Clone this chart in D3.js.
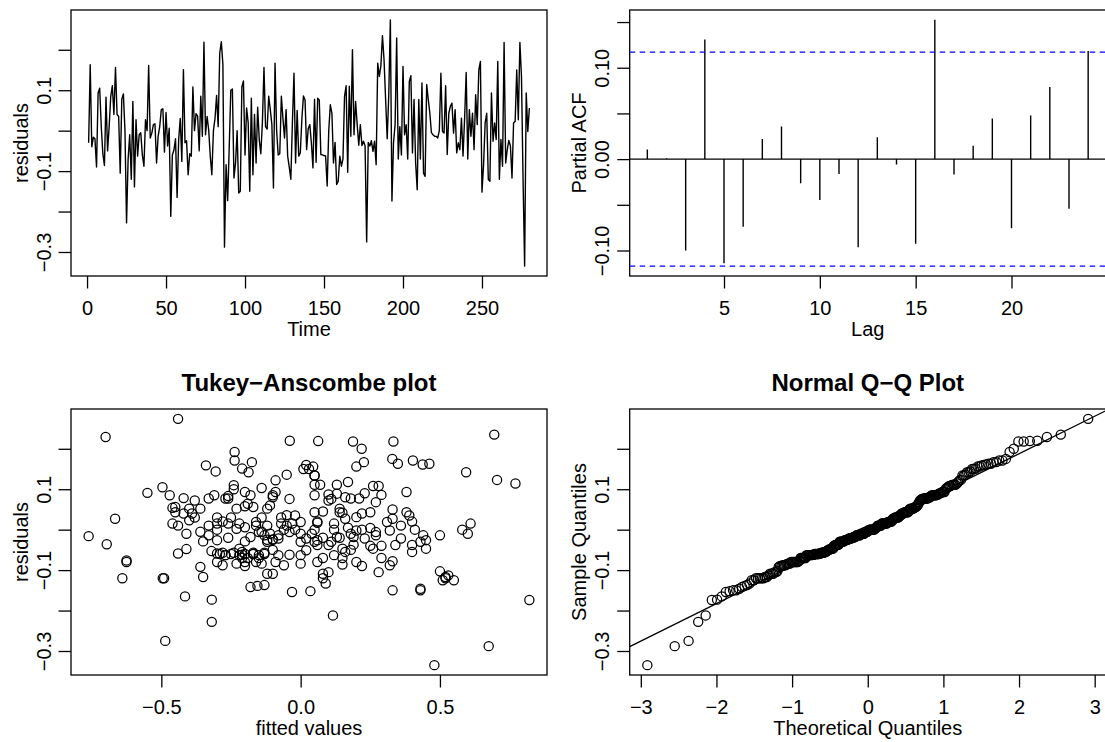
<!DOCTYPE html>
<html>
<head>
<meta charset="utf-8">
<script src="https://cdn.jsdelivr.net/npm/d3@7"></script>
<style>
  body { margin: 0; background: #fff; }
  svg { display: block; font-family: "Liberation Sans", Arial, Helvetica, sans-serif; }
</style>
</head>
<body>
<svg id="chart"></svg>
<script>
// residuals of the fitted model, t = 1..280
var residuals = [
  -0.03, 0.163, -0.04, -0.016, -0.02, -0.09, 0.093, 0.105, 0.01, -0.057,
  -0.086, 0.083, -0.05, 0.01, 0.085, 0.111, 0.04, 0.156, 0.04, 0.035,
  -0.105, 0.078, 0.091, 0.0, -0.228, -0.07, -0.01, -0.12, 0.072, -0.139,
  0.027, -0.063, -0.01, -0.005, -0.06, -0.088, 0.027, 0.0, 0.161, -0.018,
  -0.006, 0.015, 0.017, -0.08, -0.014, 0.01, 0.052, 0.054, -0.053, 0.045,
  -0.038, 0.006, -0.212, -0.06, -0.048, -0.02, -0.165, -0.022, 0.03, -0.076,
  0.151, -0.03, -0.025, -0.109, -0.057, -0.063, 0.108, 0.0, 0.042, 0.036,
  -0.05, 0.085, -0.014, 0.219, -0.01, 0.035, 0.002, -0.063, -0.109, 0.0,
  0.03, 0.087, 0.01, 0.192, 0.22, 0.163, -0.288, -0.084, -0.173, -0.04,
  0.1, 0.103, -0.117, -0.08, 0.0, -0.154, -0.15, 0.108, 0.123, -0.06,
  0.056, 0.02, -0.15, 0.08, -0.109, 0.04, -0.08, 0.058, -0.022, -0.057,
  0.02, 0.156, 0.01, 0.004, 0.085, 0.052, 0.015, -0.142, 0.167, 0.0,
  -0.06, -0.057, 0.085, 0.03, -0.018, 0.052, -0.063, -0.09, -0.12, 0.02,
  0.142, -0.08, 0.05, -0.063, -0.055, 0.03, 0.086, 0.076, -0.047, 0.005,
  0.015, -0.03, -0.092, 0.077, -0.078, 0.08, 0.076, -0.059, -0.06, -0.062,
  -0.062, -0.137, 0.0, 0.064, 0.043, -0.08, -0.029, -0.133, -0.125, -0.063,
  -0.088, -0.07, 0.085, 0.111, -0.103, 0.11, -0.014, 0.2, -0.01, 0.072,
  0.015, -0.036, 0.015, -0.037, -0.026, -0.038, -0.275, -0.029, -0.038, -0.025,
  -0.051, -0.026, -0.084, 0.167, 0.134, 0.16, 0.235, 0.175, 0.077, -0.02,
  0.09, 0.274, -0.174, -0.03, 0.015, 0.229, -0.07, 0.01, -0.06, 0.159,
  -0.01, 0.015, -0.07, 0.122, 0.136, -0.055, 0.077, -0.08, -0.146, 0.077,
  -0.07, 0.118, -0.105, -0.113, 0.114, 0.077, 0.043, -0.005, -0.01, -0.014,
  -0.014, -0.018, 0.0, 0.142, -0.002, -0.006, 0.111, -0.059, 0.043, 0.06,
  0.068, -0.006, 0.052, -0.055, -0.03, -0.047, 0.031, -0.063, 0.03, 0.144,
  -0.07, 0.052, -0.014, 0.043, -0.047, 0.089, 0.015, 0.15, 0.171, -0.152,
  -0.084, 0.019, 0.043, -0.12, -0.125, 0.093, -0.026, 0.019, -0.022, 0.171,
  -0.12, -0.022, -0.088, 0.218, -0.08, -0.047, -0.024, -0.038, -0.117, 0.019,
  0.023, 0.15, 0.027, 0.218, 0.134, -0.12, -0.335, 0.093, -0.002, 0.056
];

// fitted values, same order as residuals
var fitted = [
  -0.12, 0.462, 0.25, -0.761, 0.08, -0.2, 0.38, -0.496, -0.05, -0.28,
  0.15, -0.26, -0.1, -0.44, 0.05, 0.13, -0.42, 0.045, 0.22, -0.02,
  0.28, -0.42, -0.55, 0.41, -0.319, -0.15, 0.18, -0.64, 0.1, -0.155,
  0.33, -0.22, 0.0, -0.36, -0.25, -0.06, -0.666, 0.12, 0.438, -0.18,
  0.27, -0.3, 0.06, -0.625, -0.08, 0.36, -0.12, -0.46, -0.32, 0.08,
  0.1, -0.2, 0.116, -0.2, -0.41, -0.26, -0.415, 0.02, -0.38, -0.625,
  -0.21, 0.43, -0.1, 0.08, -0.24, -0.15, 0.26, -0.3, 0.15, -0.05,
  0.18, -0.18, 0.5, 0.063, -0.11, 0.39, -0.23, -0.27, -0.12, 0.22,
  -0.07, 0.1, -0.33, -0.237, -0.039, 0.349, 0.675, 0.0, -0.319, 0.29,
  -0.24, -0.14, 0.52, -0.2, 0.05, -0.031, 0.33, 0.28, 0.705, -0.17,
  -0.45, -0.28, 0.43, 0.16, -0.1, -0.39, 0.2, -0.2, 0.36, -0.13,
  0.06, 0.2, -0.16, 0.25, -0.1, 0.14, -0.46, -0.18, 0.227, -0.02,
  -0.29, -0.17, -0.47, -0.25, 0.13, -0.36, -0.08, 0.22, -0.495, 0.4,
  0.594, -0.16, 0.33, -0.27, -0.21, -0.14, 0.29, -0.04, 0.45, 0.17,
  -0.22, 0.05, -0.36, 0.18, 0.33, -0.1, 0.11, -0.3, -0.13, -0.21,
  -0.04, -0.13, 0.58, -0.19, 0.38, -0.09, -0.35, 0.09, 0.55, 0.12,
  -0.28, 0.15, -0.31, 0.07, 0.5, -0.24, 0.27, 0.219, -0.41, -0.38,
  0.12, -0.696, -0.07, 0.19, -0.3, 0.06, -0.486, -0.2, 0.34, -0.12,
  0.02, 0.45, -0.23, -0.175, 0.05, 0.02, 0.695, 0.329, -0.33, 0.14,
  0.23, -0.44, 0.821, 0.0, -0.26, -0.7, 0.29, -0.12, -0.17, -0.34,
  0.6, 0.61, -0.19, -0.09, -0.05, 0.16, -0.27, 0.06, 0.43, 0.21,
  -0.21, 0.17, 0.1, 0.53, 0.771, -0.26, 0.25, -0.14, 0.04, 0.44,
  -0.33, 0.19, -0.06, -0.187, 0.32, -0.15, 0.05, -0.44, 0.14, -0.11,
  0.27, -0.04, -0.23, 0.4, 0.11, -0.22, 0.2, 0.0, -0.3, -0.305,
  0.08, -0.4, -0.13, -0.45, 0.26, 0.13, -0.03, 0.03, -0.237, 0.035,
  -0.14, 0.31, 0.05, -0.49, 0.51, -0.2, 0.06, -0.16, 0.23, 0.403,
  0.08, -0.08, 0.32, 0.188, -0.3, 0.15, -0.1, 0.4, -0.35, 0.0,
  -0.4, 0.01, 0.16, 0.333, 0.05, 0.52, 0.48, -0.09, 0.2, -0.17
];

// partial autocorrelations, lags 1..24
var pacfLags = d3.range(1, 25);
var pacfValues = [
  0.0105, 0.001, -0.1, 0.131, -0.114, -0.074, 0.022, 0.0356, -0.0265, -0.0447,
  -0.0164, -0.0964, 0.024, -0.0058, -0.0927, 0.1524, -0.0167, 0.0145, 0.0444, -0.0756,
  0.0476, 0.0789, -0.0542, 0.1182
];

// tick values
var residTicks = [-0.3, -0.2, -0.1, 0, 0.1, 0.2];
var residLabels = [-0.3, -0.1, 0.1];
var timeTicks = [0, 50, 100, 150, 200, 250];
var pacfTicks = [-0.10, -0.05, 0, 0.05, 0.10, 0.15];
var pacfTickLabels = [-0.10, 0, 0.10];
var lagTicks = [5, 10, 15, 20];
var fittedTicks = [-0.5, 0, 0.5];
var qqTicks = [-3, -2, -1, 0, 1, 2, 3];

var width = 1105, height = 742;
var svg = d3.select("#chart").attr("width", width).attr("height", height);
svg.append("rect").attr("width", width).attr("height", height).attr("fill", "#fff");

var fontSize = 20;
var minus = function(s){ return s.replace("-", "\u2212"); };

// plot regions
var panels = [
  {x0: 71,    x1: 547,    y0: 10,  y1: 276},
  {x0: 629.7, x1: 1105.8, y0: 10,  y1: 276},
  {x0: 71,    x1: 547,    y0: 409, y1: 675},
  {x0: 629.7, x1: 1105.8, y0: 409, y1: 675}
];

// R style 4% axis extension
function ext(v) {
  var e = d3.extent(v), d = (e[1] - e[0]) * 0.04;
  return [e[0] - d, e[1] + d];
}

// inverse normal cdf (Acklam)
function qnorm(p) {
  var a = [-3.969683028665376e+01, 2.209460984245205e+02, -2.759285104469687e+02, 1.383577518672690e+02, -3.066479806614716e+01, 2.506628277459239e+00];
  var b = [-5.447609879822406e+01, 1.615858368580409e+02, -1.556989798598866e+02, 6.680131188771972e+01, -1.328068155288572e+01];
  var c = [-7.784894002430293e-03, -3.223964580411365e-01, -2.400758277161838e+00, -2.549732539343734e+00, 4.374664141464968e+00, 2.938163982698783e+00];
  var d = [7.784695709041462e-03, 3.224671290700398e-01, 2.445134137142996e+00, 3.754408661907416e+00];
  var pl = 0.02425, q, r;
  if (p < pl) {
    q = Math.sqrt(-2 * Math.log(p));
    return (((((c[0]*q+c[1])*q+c[2])*q+c[3])*q+c[4])*q+c[5]) / ((((d[0]*q+d[1])*q+d[2])*q+d[3])*q+1);
  }
  if (p > 1 - pl) {
    q = Math.sqrt(-2 * Math.log(1 - p));
    return -(((((c[0]*q+c[1])*q+c[2])*q+c[3])*q+c[4])*q+c[5]) / ((((d[0]*q+d[1])*q+d[2])*q+d[3])*q+1);
  }
  q = p - 0.5; r = q * q;
  return (((((a[0]*r+a[1])*r+a[2])*r+a[3])*r+a[4])*r+a[5])*q / (((((b[0]*r+b[1])*r+b[2])*r+b[3])*r+b[4])*r+1);
}

function frame(p, i) {
  svg.append("clipPath").attr("id", "clip" + i)
    .append("rect").attr("x", p.x0).attr("y", p.y0)
    .attr("width", p.x1 - p.x0).attr("height", p.y1 - p.y0);
  svg.append("rect")
    .attr("x", p.x0).attr("y", p.y0)
    .attr("width", p.x1 - p.x0).attr("height", p.y1 - p.y0)
    .attr("fill", "none").attr("stroke", "#000").attr("stroke-width", 1.3);
}

function bottomAxis(p, x, ticks, fmt, label) {
  var g = svg.append("g")
    .attr("transform", "translate(0," + p.y1 + ")")
    .call(d3.axisBottom(x).tickValues(ticks).tickSize(12.5).tickFormat(fmt));
  g.select(".domain").remove();
  g.selectAll("line").attr("stroke", "#000").attr("stroke-width", 1.3);
  g.selectAll("text").attr("y", 38.5).attr("dy", 0)
    .attr("font-size", fontSize).attr("font-family", null).attr("fill", "#000");
  svg.append("text")
    .attr("x", (p.x0 + p.x1) / 2).attr("y", p.y1 + 60)
    .attr("text-anchor", "middle").attr("font-size", fontSize)
    .text(label);
}

function leftAxis(p, y, ticks, fmt, label) {
  var g = svg.append("g")
    .attr("transform", "translate(" + p.x0 + ",0)")
    .call(d3.axisLeft(y).tickValues(ticks).tickSize(12.5).tickFormat(fmt));
  g.select(".domain").remove();
  g.selectAll("line").attr("stroke", "#000").attr("stroke-width", 1.3);
  g.selectAll("text").attr("x", 0).attr("dy", 0)
    .attr("transform", "translate(-20.5,0) rotate(-90)")
    .attr("text-anchor", "middle")
    .attr("font-size", fontSize).attr("font-family", null).attr("fill", "#000");
  svg.append("text")
    .attr("transform", "translate(" + (p.x0 - 43.5) + "," + ((p.y0 + p.y1) / 2) + ") rotate(-90)")
    .attr("text-anchor", "middle").attr("font-size", fontSize)
    .text(label);
}

function title(p, txt) {
  svg.append("text")
    .attr("x", (p.x0 + p.x1) / 2).attr("y", 391)
    .attr("text-anchor", "middle").attr("font-size", 24).attr("font-weight", "bold")
    .text(txt);
}

var residFmt = function(d) {
  return residLabels.some(function(v){ return Math.abs(v - d) < 1e-9; }) ? minus(d3.format(".1f")(d)) : "";
};

// ---- panel 1: residual time series ----
var p = panels[0];
frame(p, 0);
var times = d3.range(1, residuals.length + 1);
var x1 = d3.scaleLinear().domain(ext(times)).range([p.x0, p.x1]);
var y1 = d3.scaleLinear().domain(ext(residuals)).range([p.y1, p.y0]);
svg.append("path")
  .datum(residuals)
  .attr("clip-path", "url(#clip0)")
  .attr("fill", "none").attr("stroke", "#000").attr("stroke-width", 1.4)
  .attr("stroke-linejoin", "round")
  .attr("d", d3.line().x(function(d, i){ return x1(i + 1); }).y(function(d){ return y1(d); }));
bottomAxis(p, x1, timeTicks, d3.format("d"), "Time");
leftAxis(p, y1, residTicks, residFmt, "residuals");

// ---- panel 2: partial ACF ----
p = panels[1];
frame(p, 1);
var clim = qnorm(0.975) / Math.sqrt(residuals.length);
var x2 = d3.scaleLinear().domain(ext(pacfLags)).range([p.x0, p.x1]);
var y2 = d3.scaleLinear().domain(ext(pacfValues.concat([-clim, clim]))).range([p.y1, p.y0]);
var g2 = svg.append("g").attr("clip-path", "url(#clip1)");
g2.append("line")
  .attr("x1", p.x0).attr("x2", p.x1).attr("y1", y2(0)).attr("y2", y2(0))
  .attr("stroke", "#000").attr("stroke-width", 1.3);
g2.selectAll(".bar")
  .data(pacfValues)
  .enter()
  .append("line")
  .attr("class", "bar")
  .attr("x1", function(d, i){ return x2(pacfLags[i]); })
  .attr("x2", function(d, i){ return x2(pacfLags[i]); })
  .attr("y1", y2(0))
  .attr("y2", function(d){ return y2(d); })
  .attr("stroke", "#000").attr("stroke-width", 1.4);
g2.selectAll(".ci")
  .data([clim, -clim])
  .enter()
  .append("line")
  .attr("class", "ci")
  .attr("x1", p.x0).attr("x2", p.x1)
  .attr("y1", function(d){ return y2(d); }).attr("y2", function(d){ return y2(d); })
  .attr("stroke", "#0000ff").attr("stroke-width", 1.3)
  .attr("stroke-dasharray", "5.5,4.5");
bottomAxis(p, x2, lagTicks, d3.format("d"), "Lag");
leftAxis(p, y2, pacfTicks, function(d) {
  return pacfTickLabels.some(function(v){ return Math.abs(v - d) < 1e-9; }) ? minus(d3.format(".2f")(d)) : "";
}, "Partial ACF");

// ---- panel 3: Tukey-Anscombe plot ----
p = panels[2];
frame(p, 2);
var x3 = d3.scaleLinear().domain(ext(fitted)).range([p.x0, p.x1]);
var y3 = d3.scaleLinear().domain(ext(residuals)).range([p.y1, p.y0]);
svg.append("g").selectAll("circle")
  .data(residuals)
  .enter()
  .append("circle")
  .attr("cx", function(d, i){ return x3(fitted[i]); })
  .attr("cy", function(d){ return y3(d); })
  .attr("r", 4.6)
  .attr("fill", "none").attr("stroke", "#000").attr("stroke-width", 1.25);
title(p, "Tukey\u2212Anscombe plot");
bottomAxis(p, x3, fittedTicks, function(d){ return minus(d3.format(".1f")(d)); }, "fitted values");
leftAxis(p, y3, residTicks, residFmt, "residuals");

// ---- panel 4: normal Q-Q plot ----
p = panels[3];
frame(p, 3);
var n = residuals.length;
var sample = residuals.slice().sort(d3.ascending);
var theo = d3.range(n).map(function(i){ return qnorm((i + 0.5) / n); });
var x4 = d3.scaleLinear().domain(ext(theo)).range([p.x0, p.x1]);
var y4 = d3.scaleLinear().domain(ext(sample)).range([p.y1, p.y0]);
var q1 = d3.quantile(sample, 0.25), q3 = d3.quantile(sample, 0.75);
var slope = (q3 - q1) / (qnorm(0.75) - qnorm(0.25));
var icpt = q1 - slope * qnorm(0.25);
var xd = x4.domain();
svg.append("line")
  .attr("clip-path", "url(#clip3)")
  .attr("x1", x4(xd[0])).attr("y1", y4(icpt + slope * xd[0]))
  .attr("x2", x4(xd[1])).attr("y2", y4(icpt + slope * xd[1]))
  .attr("stroke", "#000").attr("stroke-width", 1.3);
svg.append("g").selectAll("circle")
  .data(sample)
  .enter()
  .append("circle")
  .attr("cx", function(d, i){ return x4(theo[i]); })
  .attr("cy", function(d){ return y4(d); })
  .attr("r", 4.6)
  .attr("fill", "none").attr("stroke", "#000").attr("stroke-width", 1.25);
title(p, "Normal Q\u2212Q Plot");
bottomAxis(p, x4, qqTicks, function(d){ return minus(d3.format("d")(d)); }, "Theoretical Quantiles");
leftAxis(p, y4, residTicks, residFmt, "Sample Quantiles");
</script>
</body>
</html>
